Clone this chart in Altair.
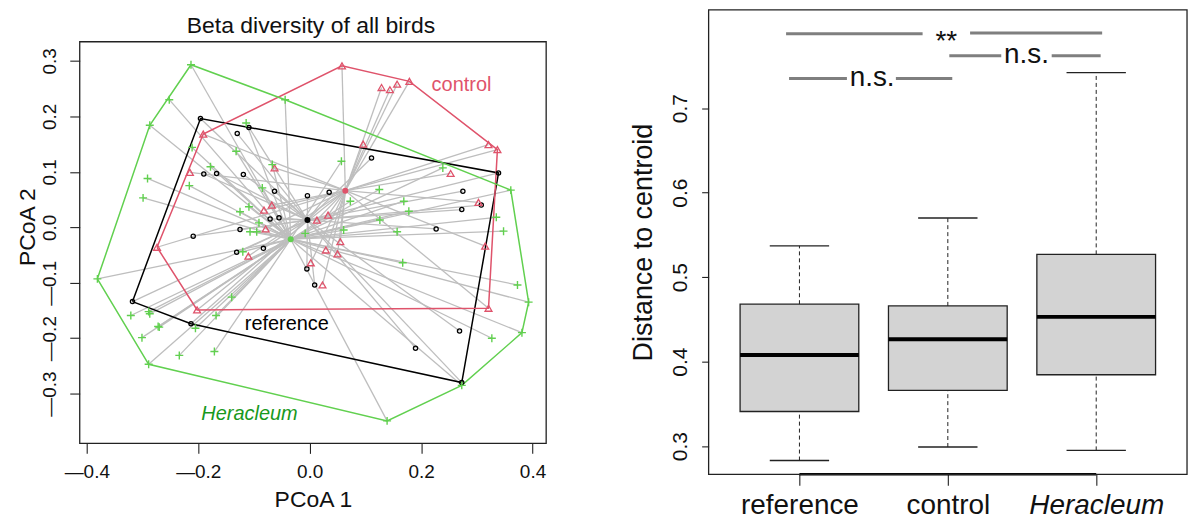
import altair as alt
import pandas as pd

FONT = "Liberation Sans"

# ---------------- Left panel: PCoA ordination ----------------
groups = ["reference", "control", "Heracleum"]
group_colors = ["#000000", "#DF536B", "#61D04F"]

ref_x = [-0.196, -0.109, -0.130, -0.190, -0.167, -0.119, -0.063, -0.004, -0.071, -0.055,
         -0.209, -0.125, -0.083, 0.111, 0.035, 0.275, 0.273, 0.308, 0.227, 0.339,
         -0.318, -0.213, -0.131, -0.005, 0.009, 0.269, 0.190, 0.273]
ref_y = [0.196, 0.180, 0.169, 0.096, 0.097, 0.095, 0.065, 0.057, 0.015, 0.017,
         -0.016, -0.004, -0.038, 0.125, 0.063, 0.065, 0.032, 0.040, -0.003, 0.098,
         -0.134, -0.174, -0.045, -0.075, -0.104, -0.187, -0.218, -0.280]

ctl_x = [-0.191, -0.215, -0.063, -0.068, -0.082, -0.079, 0.013, -0.274, 0.058, 0.129,
         0.144, 0.157, 0.179, 0.096, 0.321, 0.337, 0.253, 0.303, 0.033, 0.055,
         0.029, 0.050, 0.002, 0.023, 0.315, 0.321, -0.202, -0.110]
ctl_y = [0.168, 0.099, 0.107, 0.040, 0.031, -0.003, 0.013, -0.036, 0.291, 0.252,
         0.248, 0.258, 0.263, 0.150, 0.149, 0.140, 0.097, 0.045, 0.022, -0.026,
         -0.041, -0.048, -0.064, -0.104, -0.034, -0.146, -0.149, -0.052]

her_x = [-0.213, -0.252, -0.287, -0.044, -0.114, -0.211, -0.132, -0.178, -0.067, -0.291,
         -0.216, -0.299, -0.085, -0.109, -0.125, -0.091, -0.107, -0.095, -0.008, 0.057,
         0.239, 0.125, 0.073, 0.169, 0.178, 0.126, 0.061, 0.157, 0.361, 0.335,
         0.348, -0.381, -0.321, -0.289, -0.287, -0.272, -0.270, -0.301, -0.289, -0.234,
         -0.171, -0.205, -0.168, -0.140, -0.120, 0.167, 0.373, 0.393, 0.381, 0.327,
         0.273, 0.139]
her_y = [0.293, 0.230, 0.184, 0.230, 0.188, 0.144, 0.137, 0.109, 0.113, 0.088,
         0.075, 0.053, 0.071, 0.037, 0.028, 0.008, -0.008, -0.008, -0.011, 0.119,
         0.107, 0.068, 0.047, 0.047, 0.029, 0.013, -0.005, -0.008, 0.067, 0.018,
         -0.007, -0.093, -0.159, -0.152, -0.156, -0.179, -0.180, -0.199, -0.247, -0.231,
         -0.224, -0.182, -0.159, -0.126, -0.044, -0.064, -0.104, -0.135, -0.190, -0.200,
         -0.285, -0.349]

centroid_x = [-0.004, 0.064, -0.034]
centroid_y = [0.013, 0.066, -0.0215]

group_label_text = ["reference", "control", "Heracleum"]
group_label_x = [-0.041, 0.2725, -0.108]
group_label_y = [-0.185, 0.246, -0.348]
group_label_color = ["#000000", "#DF536B", "#18991C"]

left_title = "Beta diversity of all birds"
x_ticks = [-0.4, -0.2, 0.0, 0.2, 0.4]
y_ticks = [-0.3, -0.2, -0.1, 0.0, 0.1, 0.2, 0.3]
x_domain = [-0.4127, 0.4245]
# the top part of this range (above 0.3345) holds the panel title
y_domain = [-0.3896, 0.3920]

# ---------------- Right panel: box plot ----------------
box_cats = ["reference", "control", "Heracleum"]
box_low = [0.283, 0.299, 0.295]
box_q1 = [0.341, 0.366, 0.3845]
box_med = [0.408, 0.4265, 0.453]
box_q3 = [0.468, 0.466, 0.527]
box_high = [0.537, 0.570, 0.742]

sig_seg_x = [0.91, 2.15, 0.93, 1.65, 2.01, 2.70]
sig_seg_x2 = [1.83, 3.04, 1.32, 2.03, 2.36, 3.03]
sig_seg_y = [0.788, 0.789, 0.735, 0.735, 0.762, 0.762]
sig_text = ["**", "n.s.", "n.s."]
sig_text_x = [1.99, 1.49, 2.53]
sig_text_y = [0.788, 0.735, 0.762]
box_y_ticks = [0.3, 0.4, 0.5, 0.6, 0.7]
box_y_domain = [0.2667, 0.8164]
box_x_domain = [0.388, 3.612]


def convex_hull(xs, ys):
    pts = sorted(set(zip(xs, ys)))

    def cross(o, a, b):
        return (a[0] - o[0]) * (b[1] - o[1]) - (a[1] - o[1]) * (b[0] - o[0])

    lower = []
    for p in pts:
        while len(lower) >= 2 and cross(lower[-2], lower[-1], p) <= 0:
            lower.pop()
        lower.append(p)
    upper = []
    for p in reversed(pts):
        while len(upper) >= 2 and cross(upper[-2], upper[-1], p) <= 0:
            upper.pop()
        upper.append(p)
    h = lower[:-1] + upper[:-1]
    return h + [h[0]]


series = {"reference": (ref_x, ref_y), "control": (ctl_x, ctl_y), "Heracleum": (her_x, her_y)}
rows = []
hull_rows = []
for gi, g in enumerate(groups):
    gx, gy = series[g]
    for a, b in zip(gx, gy):
        rows.append({"group": g, "x": a, "y": b, "cx": centroid_x[gi], "cy": centroid_y[gi]})
    for k, (a, b) in enumerate(convex_hull(gx, gy)):
        hull_rows.append({"group": g, "order": k, "x": a, "y": b})
pts = pd.DataFrame(rows)
hull_df = pd.DataFrame(hull_rows)
cent_df = pd.DataFrame({"group": groups, "cx": centroid_x, "cy": centroid_y})
lab_df = pd.DataFrame({"text": group_label_text, "x": group_label_x, "y": group_label_y,
                       "col": group_label_color})
title_df = pd.DataFrame({"t": [left_title]})

color_scale = alt.Scale(domain=groups, range=group_colors)
xs = alt.Scale(domain=x_domain, nice=False, zero=False)
ys = alt.Scale(domain=y_domain, nice=False, zero=False)

dash_expr = "datum.value < 0 ? '\u2014' + format(abs(datum.value), '.1f') : format(datum.value, '.1f')"

x_axis = alt.Axis(values=x_ticks, labelExpr=dash_expr, grid=False, domain=False,
                  tickSize=10, tickColor="#222", tickWidth=1.1,
                  labelFontSize=19, labelFont=FONT, labelColor="#111", labelPadding=9,
                  title="PCoA 1", titleFont=FONT, titleFontSize=23, titleFontWeight="normal",
                  titleColor="#111", titlePadding=7)
y_axis = alt.Axis(values=y_ticks, labelExpr=dash_expr, grid=False, domain=False,
                  tickSize=10, tickColor="#222", tickWidth=1.1,
                  labelFontSize=19, labelFont=FONT, labelColor="#111", labelPadding=10,
                  labelAngle=270, labelAlign="center", labelBaseline="bottom",
                  title="PCoA 2", titleFont=FONT, titleFontSize=23, titleFontWeight="normal",
                  titleColor="#111", titlePadding=1)

LW, LH, LTOP = 468, 435, 32

spider = alt.Chart(pts).mark_rule(color="#BEBEBE", strokeWidth=1.3).encode(
    x=alt.X("x:Q", scale=xs, axis=x_axis),
    y=alt.Y("y:Q", scale=ys, axis=y_axis),
    x2="cx:Q", y2="cy:Q")

hull = alt.Chart(hull_df).mark_line(strokeWidth=1.5).encode(
    x="x:Q", y="y:Q", order="order:Q", detail="group:N",
    color=alt.Color("group:N", scale=color_scale, legend=None))

ref_pts = alt.Chart(pts).transform_filter("datum.group == 'reference'").mark_point(
    shape="circle", size=18, strokeWidth=1.3, color="#000000", filled=False, opacity=1
).encode(x="x:Q", y="y:Q")
ctl_pts = alt.Chart(pts).transform_filter("datum.group == 'control'").mark_point(
    shape="triangle-up", size=48, strokeWidth=1.3, color="#DF536B", filled=False, opacity=1
).encode(x="x:Q", y="y:Q")
her_pts = alt.Chart(pts).transform_filter("datum.group == 'Heracleum'").mark_point(
    shape="M-1,0L1,0M0,-1L0,1", size=64, strokeWidth=1.4, color="#61D04F", filled=False, opacity=1
).encode(x="x:Q", y="y:Q")

cents = alt.Chart(cent_df).mark_point(shape="circle", size=36, filled=True, opacity=1).encode(
    x="cx:Q", y="cy:Q", color=alt.Color("group:N", scale=color_scale, legend=None))

lab_normal = alt.Chart(lab_df).transform_filter("datum.text != 'Heracleum'").mark_text(
    font=FONT, fontSize=20, align="center", baseline="alphabetic").encode(
    x="x:Q", y="y:Q", text="text:N", color=alt.Color("col:N", scale=None))
lab_italic = alt.Chart(lab_df).transform_filter("datum.text == 'Heracleum'").mark_text(
    font=FONT, fontSize=20, fontStyle="italic", align="center", baseline="alphabetic").encode(
    x="x:Q", y="y:Q", text="text:N", color=alt.Color("col:N", scale=None))

title_mark = alt.Chart(title_df).mark_text(
    font=FONT, fontSize=23, align="center", baseline="alphabetic", color="#111").encode(
    x=alt.value(232), y=alt.value(LTOP - 9), text="t:N")
left_frame = alt.Chart(title_df).mark_rect(filled=False, color="#222", strokeWidth=1.3).encode(
    x=alt.value(0), x2=alt.value(LW), y=alt.value(LTOP), y2=alt.value(LH))

left = alt.layer(spider, hull, ref_pts, ctl_pts, her_pts, cents, lab_normal, lab_italic,
                 title_mark, left_frame).properties(width=LW, height=LH)

# ---------------- Right panel ----------------
RW, RH = 480, 466
box_df = pd.DataFrame({"cat": box_cats, "pos": list(range(1, len(box_cats) + 1)),
                       "low": box_low, "q1": box_q1, "med": box_med, "q3": box_q3,
                       "high": box_high})
seg_df = pd.DataFrame({"x": sig_seg_x, "x2": sig_seg_x2, "y": sig_seg_y})
stxt_df = pd.DataFrame({"t": sig_text, "x": sig_text_x, "y": sig_text_y})

bx = alt.Scale(domain=box_x_domain, nice=False, zero=False)
by = alt.Scale(domain=box_y_domain, nice=False, zero=False)

label_expr = " : ".join([f"datum.value == {i + 1} ? '{c}'" for i, c in enumerate(box_cats[:-1])]) \
    + f" : '{box_cats[-1]}'"
italic_test = f"datum.value == {len(box_cats)}"

bx_axis = alt.Axis(values=list(range(1, len(box_cats) + 1)), labelExpr=label_expr,
                   grid=False, domain=False, tickSize=11, tickColor="#222", tickWidth=1.1,
                   labelFontSize=28, labelFont=FONT, labelColor="#111", labelPadding=6,
                   labelFontStyle=alt.condition(italic_test, alt.value("italic"), alt.value("normal")),
                   title=None)
by_axis = alt.Axis(values=box_y_ticks, format=".1f", grid=False, domain=False,
                   tickSize=7, tickColor="#222", tickWidth=1.1,
                   labelFontSize=21, labelFont=FONT, labelColor="#111", labelPadding=11,
                   labelAngle=270, labelAlign="center", labelBaseline="bottom",
                   title="Distance to centroid", titleFont=FONT, titleFontSize=27,
                   titleFontWeight="normal", titleColor="#111", titlePadding=12)

base = alt.Chart(box_df).transform_calculate(
    xl="datum.pos - 0.4", xr="datum.pos + 0.4", cl="datum.pos - 0.2", cr="datum.pos + 0.2")

wh_up = base.mark_rule(color="#222", strokeWidth=1, strokeDash=[4, 3]).encode(
    x=alt.X("pos:Q", scale=bx, axis=bx_axis),
    y=alt.Y("q3:Q", scale=by, axis=by_axis), y2="high:Q")
wh_dn = base.mark_rule(color="#222", strokeWidth=1, strokeDash=[4, 3]).encode(
    x="pos:Q", y="low:Q", y2="q1:Q")
cap_up = base.mark_rule(color="#222", strokeWidth=1.3).encode(x="cl:Q", x2="cr:Q", y="high:Q")
cap_dn = base.mark_rule(color="#222", strokeWidth=1.3).encode(x="cl:Q", x2="cr:Q", y="low:Q")
boxes = base.mark_bar(fill="#D3D3D3", stroke="#222", strokeWidth=1.3).encode(
    x="xl:Q", x2="xr:Q", y="q1:Q", y2="q3:Q")
meds = base.mark_rule(color="#000000", strokeWidth=4).encode(x="xl:Q", x2="xr:Q", y="med:Q")
baseline = alt.Chart(box_df).transform_aggregate(lo="min(pos)", hi="max(pos)").mark_rule(
    color="#000000", strokeWidth=2.5).encode(x="lo:Q", x2="hi:Q", y=alt.value(RH))

sig_lines = alt.Chart(seg_df).mark_rule(color="#7F7F7F", strokeWidth=3).encode(
    x="x:Q", x2="x2:Q", y="y:Q")
ns_text = alt.Chart(stxt_df).transform_filter("datum.t == 'n.s.'").mark_text(
    font=FONT, fontSize=28, align="center", baseline="alphabetic", dy=7, color="#111").encode(
    x="x:Q", y="y:Q", text="t:N")
star_text = alt.Chart(stxt_df).transform_filter("datum.t == '**'").mark_text(
    font=FONT, fontSize=28, align="center", baseline="alphabetic", dy=16, color="#111").encode(
    x="x:Q", y="y:Q", text="t:N")
right_frame = alt.Chart(title_df).mark_rect(filled=False, color="#222", strokeWidth=1.3).encode(
    x=alt.value(0), x2=alt.value(RW), y=alt.value(0), y2=alt.value(RH))

right = alt.layer(wh_up, wh_dn, cap_up, cap_dn, boxes, meds, baseline, sig_lines,
                  ns_text, star_text, right_frame).properties(width=RW, height=RH)

chart = alt.hconcat(left, right, spacing=83).properties(
    padding={"left": 17, "top": 8, "right": 6, "bottom": 0}
).configure(font=FONT).configure_view(strokeOpacity=0)

chart.save("out.html", embed_options={"renderer": "svg", "actions": False})
